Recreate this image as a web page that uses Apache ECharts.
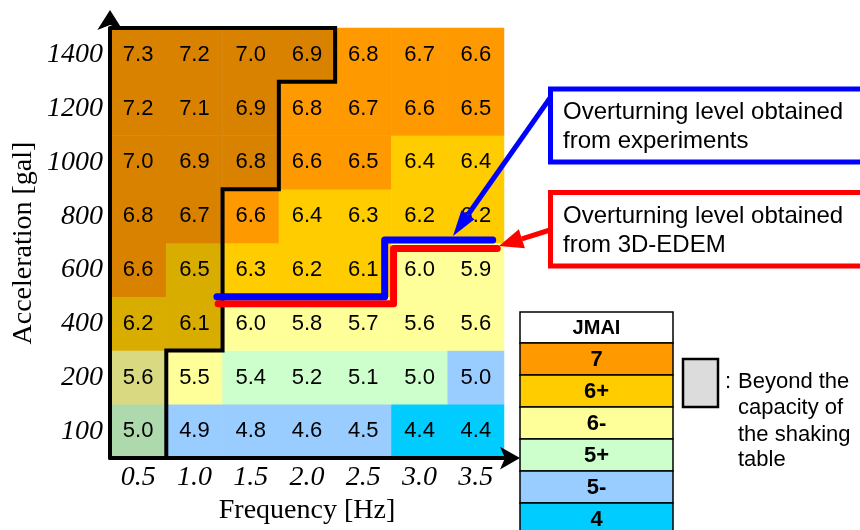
<!DOCTYPE html>
<html>
<head>
<meta charset="utf-8">
<script src="https://cdn.jsdelivr.net/npm/echarts@6/dist/echarts.min.js"></script>
<style>
  html, body { margin: 0; padding: 0; background: #fff; }
  #chart { width: 860px; height: 530px; }
</style>
</head>
<body>
<div id="chart"></div>
<script>
// Shaking-table frequency (Hz) and peak acceleration (gal) grid
const freqLabels = ['0.5', '1.0', '1.5', '2.0', '2.5', '3.0', '3.5'];
const accelLabels = ['100', '200', '400', '600', '800', '1000', '1200', '1400'];

// Computed JMA seismic intensity, one row per acceleration (bottom to top)
const jmaValues = [
  [5.0, 4.9, 4.8, 4.6, 4.5, 4.4, 4.4],
  [5.6, 5.5, 5.4, 5.2, 5.1, 5.0, 5.0],
  [6.2, 6.1, 6.0, 5.8, 5.7, 5.6, 5.6],
  [6.6, 6.5, 6.3, 6.2, 6.1, 6.0, 5.9],
  [6.8, 6.7, 6.6, 6.4, 6.3, 6.2, 6.2],
  [7.0, 6.9, 6.8, 6.6, 6.5, 6.4, 6.4],
  [7.2, 7.1, 6.9, 6.8, 6.7, 6.6, 6.5],
  [7.3, 7.2, 7.0, 6.9, 6.8, 6.7, 6.6]
];

// JMA intensity class of each cell
const jmaClasses = [
  ['5+', '5-', '5-', '5-', '5-', '4', '4'],
  ['6-', '6-', '5+', '5+', '5+', '5+', '5-'],
  ['6+', '6+', '6-', '6-', '6-', '6-', '6-'],
  ['7', '6+', '6+', '6+', '6+', '6-', '6-'],
  ['7', '7', '7', '6+', '6+', '6+', '6+'],
  ['7', '7', '7', '7', '7', '6+', '6+'],
  ['7', '7', '7', '7', '7', '7', '7'],
  ['7', '7', '7', '7', '7', '7', '7']
];

// Number of low-frequency columns beyond the shaking table capacity, per acceleration row
const capacityCols = [1, 1, 2, 2, 2, 3, 3, 4];

// Overturning boundaries: [frequency Hz, row level]
const expBoundary = [[1.20, 3.0], [2.69, 3.0], [2.69, 4.055], [3.65, 4.055]];
const demBoundary = [[1.21, 2.873], [2.769, 2.873], [2.769, 3.898], [3.69, 3.898]];

// Legend classes
const legendClasses = ['7', '6+', '6-', '5+', '5-', '4'];

const classColors = {
  '7': '#FF9900', '6+': '#FFCC00', '6-': '#FFFF99',
  '5+': '#CCFFCC', '5-': '#99CCFF', '4': '#00CCFF'
};

function shade(hex, k) {
  const n = parseInt(hex.slice(1), 16);
  const r = Math.round(((n >> 16) & 255) * k);
  const g = Math.round(((n >> 8) & 255) * k);
  const b = Math.round((n & 255) * k);
  return 'rgb(' + r + ',' + g + ',' + b + ')';
}

const SANS = "'Liberation Sans', Arial, sans-serif";
const SERIF = "'Liberation Serif', 'Times New Roman', serif";

const cells = [];
jmaValues.forEach((row, r) => {
  row.forEach((v, c) => {
    const base = classColors[jmaClasses[r][c]];
    const beyond = c < capacityCols[r];
    cells.push({
      value: [c, r, v],
      itemStyle: { color: beyond ? shade(base, 0.85) : base }
    });
  });
});

// Outline of the beyond-capacity region in (Hz, row) units
const colEdge = (n) => 0.25 + 0.5 * n;
const capacityOutline = [[colEdge(0), accelLabels.length]];
for (let r = accelLabels.length - 1; r >= 0; r--) {
  capacityOutline.push([colEdge(capacityCols[r]), r + 1]);
  capacityOutline.push([colEdge(capacityCols[r]), r]);
}

const chart = echarts.init(document.getElementById('chart'), null, { renderer: 'canvas' });

const legendX = 520, legendW = 153, legendTop = 312, rowH = 32;
const legendGraphics = [];
legendGraphics.push({
  type: 'rect', shape: { x: legendX, y: legendTop, width: legendW, height: 31 },
  style: { fill: '#fff', stroke: '#000', lineWidth: 1.5 }
});
legendGraphics.push({
  type: 'text', x: legendX + legendW / 2, y: legendTop + 16,
  style: { text: 'JMAI', font: 'bold 20px ' + SANS, fill: '#000', align: 'center', verticalAlign: 'middle' }
});
legendClasses.forEach((k, i) => {
  const y = legendTop + 31 + i * rowH;
  legendGraphics.push({
    type: 'rect', shape: { x: legendX, y: y, width: legendW, height: rowH },
    style: { fill: classColors[k], stroke: '#000', lineWidth: 1.5 }
  });
  legendGraphics.push({
    type: 'text', x: legendX + legendW / 2, y: y + rowH / 2 + 1,
    style: { text: k, font: 'bold 22px ' + SANS, fill: '#000', align: 'center', verticalAlign: 'middle' }
  });
});

function arrow(x1, y1, x2, y2, color, width, headLen, headW) {
  const dx = x2 - x1, dy = y2 - y1;
  const len = Math.sqrt(dx * dx + dy * dy);
  const ux = dx / len, uy = dy / len;
  const bx = x2 - ux * headLen, by = y2 - uy * headLen;
  const px = -uy * headW / 2, py = ux * headW / 2;
  return [
    { type: 'line', shape: { x1: x1, y1: y1, x2: bx, y2: by },
      style: { stroke: color, lineWidth: width }, z: 50 },
    { type: 'polygon', shape: { points: [[x2, y2], [bx + px, by + py], [bx - px, by - py]] },
      style: { fill: color }, z: 50 }
  ];
}

const option = {
  animation: false,
  backgroundColor: '#fff',
  grid: { left: 110, top: 28, width: 394, height: 433, containLabel: false },
  xAxis: [
    {
      type: 'category', data: freqLabels, z: 10,
      axisLine: { show: true, lineStyle: { color: '#000', width: 4 },
        symbol: ['none', 'arrow'], symbolSize: [17, 20], symbolOffset: [0, 16] },
      axisTick: { show: false },
      axisLabel: { fontFamily: SERIF, fontStyle: 'italic', fontSize: 28, color: '#000', margin: 6 },
      splitLine: { show: false },
      name: 'Frequency [Hz]', nameLocation: 'middle', nameGap: 36,
      nameTextStyle: { fontFamily: SERIF, fontSize: 28, color: '#000' }
    },
    { type: 'value', min: 0.25, max: 3.75, show: false }
  ],
  yAxis: [
    {
      type: 'category', data: accelLabels, z: 10,
      axisLine: { show: true, lineStyle: { color: '#000', width: 4 },
        symbol: ['none', 'arrow'], symbolSize: [19, 20], symbolOffset: [0, 18] },
      axisTick: { show: false },
      axisLabel: { fontFamily: SERIF, fontStyle: 'italic', fontSize: 28, color: '#000', margin: 7 },
      splitLine: { show: false },
      name: 'Acceleration [gal]', nameLocation: 'middle', nameGap: 72,
      nameTextStyle: { fontFamily: SERIF, fontSize: 28, color: '#000' }
    },
    { type: 'value', min: 0, max: 8, show: false }
  ],
  series: [
    {
      type: 'heatmap',
      data: cells,
      label: {
        show: true, color: '#000', fontFamily: SANS, fontSize: 22,
        formatter: (p) => p.value[2].toFixed(1)
      },
      emphasis: { disabled: true }
    },
    {
      type: 'line', xAxisIndex: 1, yAxisIndex: 1, data: capacityOutline,
      symbol: 'none', z: 5, silent: true,
      lineStyle: { color: '#000', width: 4, join: 'miter', cap: 'butt' }
    },
    {
      type: 'line', xAxisIndex: 1, yAxisIndex: 1, data: demBoundary,
      symbol: 'none', z: 6, silent: true,
      lineStyle: { color: '#FF0000', width: 7, join: 'round', cap: 'round' }
    },
    {
      type: 'line', xAxisIndex: 1, yAxisIndex: 1, data: expBoundary,
      symbol: 'none', z: 7, silent: true,
      lineStyle: { color: '#0000FF', width: 7, join: 'round', cap: 'round' }
    }
  ],
  graphic: [
    // Callout for experiments
    { type: 'rect', shape: { x: 550.5, y: 89, width: 330, height: 73 },
      style: { fill: '#fff', stroke: '#0000FF', lineWidth: 5 }, z: 40 },
    { type: 'text', x: 563, y: 112, z: 41,
      style: { text: 'Overturning level obtained', font: '24px ' + SANS, fill: '#000', verticalAlign: 'middle' } },
    { type: 'text', x: 563, y: 141, z: 41,
      style: { text: 'from experiments', font: '24px ' + SANS, fill: '#000', verticalAlign: 'middle' } },
    ...arrow(550, 98, 453, 236, '#0000FF', 5, 26, 16),
    // Callout for 3D-EDEM
    { type: 'rect', shape: { x: 550.5, y: 192.5, width: 330, height: 73.5 },
      style: { fill: '#fff', stroke: '#FF0000', lineWidth: 5 }, z: 40 },
    { type: 'text', x: 563, y: 216, z: 41,
      style: { text: 'Overturning level obtained', font: '24px ' + SANS, fill: '#000', verticalAlign: 'middle' } },
    { type: 'text', x: 563, y: 245, z: 41,
      style: { text: 'from 3D-EDEM', font: '24px ' + SANS, fill: '#000', verticalAlign: 'middle' } },
    ...arrow(550, 230, 499, 246, '#FF0000', 5, 24, 20),
    // JMAI class table
    ...legendGraphics,
    // Beyond-capacity swatch
    { type: 'rect', shape: { x: 683, y: 359, width: 35, height: 48 },
      style: { fill: '#DCDCDC', stroke: '#000', lineWidth: 2.5 } },
    { type: 'text', x: 725, y: 382,
      style: { text: ':', font: '22px ' + SANS, fill: '#000', verticalAlign: 'middle' } },
    { type: 'text', x: 738, y: 382,
      style: { text: 'Beyond the', font: '22px ' + SANS, fill: '#000', verticalAlign: 'middle' } },
    { type: 'text', x: 738, y: 408,
      style: { text: 'capacity of', font: '22px ' + SANS, fill: '#000', verticalAlign: 'middle' } },
    { type: 'text', x: 738, y: 435,
      style: { text: 'the shaking', font: '22px ' + SANS, fill: '#000', verticalAlign: 'middle' } },
    { type: 'text', x: 738, y: 460,
      style: { text: 'table', font: '22px ' + SANS, fill: '#000', verticalAlign: 'middle' } }
  ]
};

chart.setOption(option);
</script>
</body>
</html>
